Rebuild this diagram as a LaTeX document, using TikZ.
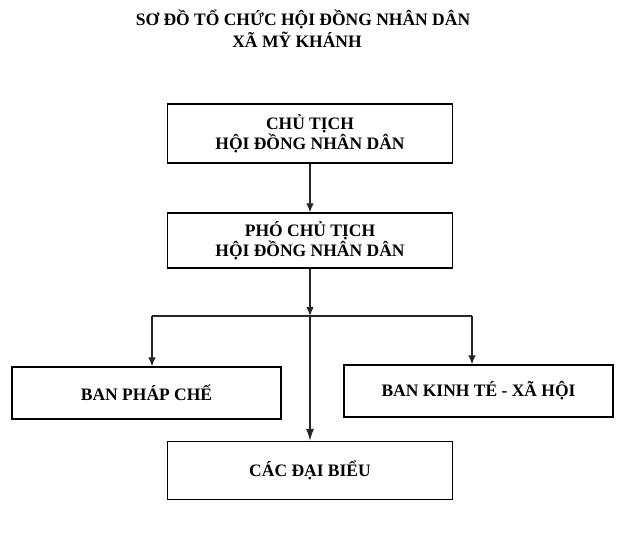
\documentclass[tikz,border=0pt]{standalone}
\usepackage{fontspec}
\setmainfont{Liberation Serif}
\usetikzlibrary{arrows.meta}
\begin{document}
\begin{tikzpicture}[x=1pt,y=-1pt,
  txt/.style={font=\fontsize{17.5}{20}\selectfont\bfseries, align=center, inner sep=0pt},
  orgbox/.style={txt, draw, line width=1.3pt, minimum width=285pt},
  conn/.style={line width=1.2pt, draw=black!85},
  arr/.style={conn, -{Latex[length=9pt,width=7.5pt]}},
  bigarr/.style={conn, -{Latex[length=12pt,width=8pt]}}]
\useasboundingbox (0,0) rectangle (640,536);
\node[txt] (t1) at (303,19) {SƠ ĐỒ TỔ CHỨC HỘI ĐỒNG NHÂN DÂN};
\node[txt] (t2) at (297,40) {XÃ MỸ KHÁNH};
\node[orgbox, minimum height=59pt] (b1) at (310,133.5) {CHỦ TỊCH\\HỘI ĐỒNG NHÂN DÂN};
\node[orgbox, minimum height=55pt] (b2) at (310,240.5) {PHÓ CHỦ TỊCH\\HỘI ĐỒNG NHÂN DÂN};
\node[orgbox, minimum width=269pt, minimum height=52pt] (bl) at (146.5,393) {BAN PHÁP CHẾ};
\node[orgbox, minimum width=269pt, minimum height=52pt] (br) at (478.5,391) {BAN KINH TÉ - XÃ HỘI};
\node[orgbox, minimum height=58pt] (b4) at (310,470.5) {CÁC ĐẠI BIỂU};
\coordinate (j) at (310,316);
\coordinate (jl) at (152,316);
\coordinate (jr) at (472,316);
\draw[arr] (b1) -- (b2);
\draw[arr] (b2) -- (j);
\draw[conn] (jl) -- (jr);
\draw[arr] (jl) -- (jl |- bl.north);
\draw[arr] (jr) -- (jr |- br.north);
\draw[bigarr] (j) -- (b4);
\end{tikzpicture}
\end{document}
